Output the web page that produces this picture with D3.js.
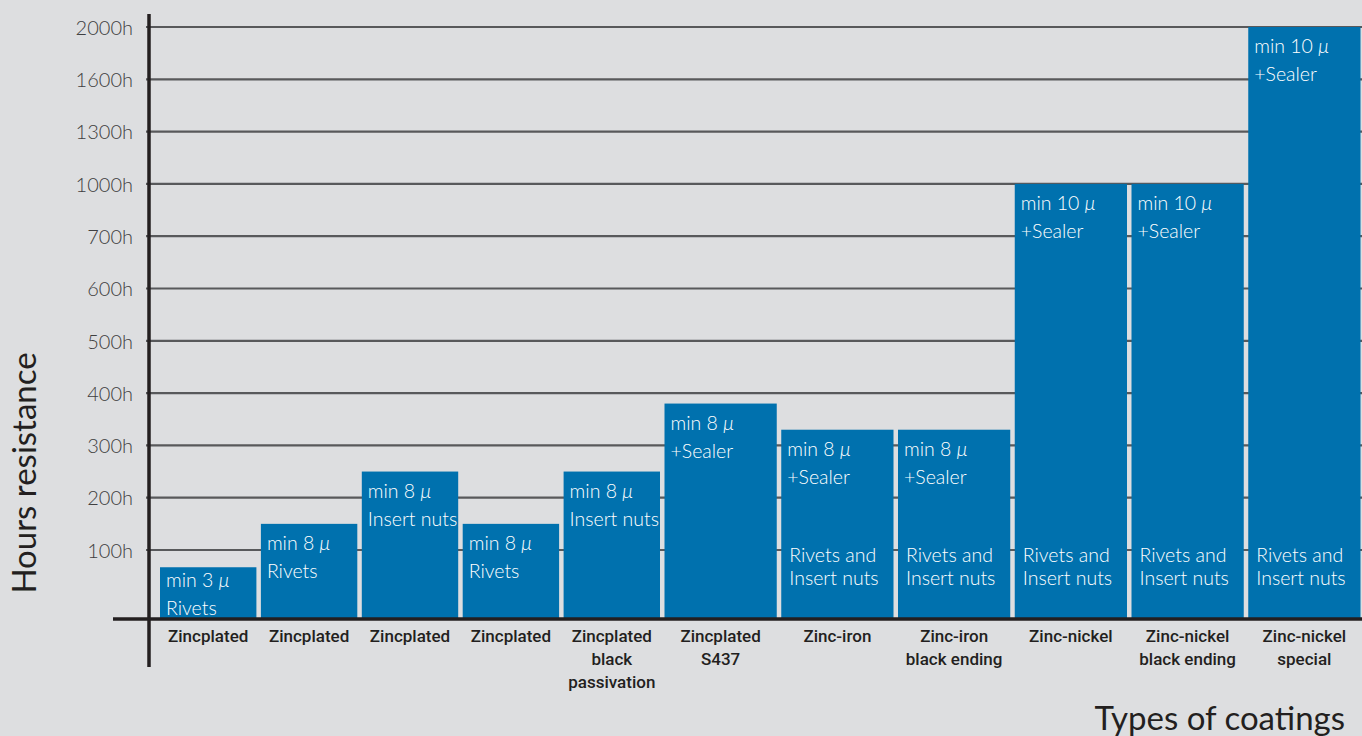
<!DOCTYPE html>
<html>
<head>
<meta charset="utf-8">
<script src="https://cdn.jsdelivr.net/npm/d3@7"></script>
<style>
  html, body { margin: 0; padding: 0; background: #dddee0; }
  svg { display: block; }
</style>
</head>
<body>
<svg id="chart" width="1362" height="736"></svg>
<script>
// ---- data ----
const categories = [
  "Zincplated", "Zincplated", "Zincplated", "Zincplated",
  "Zincplated\nblack\npassivation", "Zincplated\nS437",
  "Zinc-iron", "Zinc-iron\nblack ending",
  "Zinc-nickel", "Zinc-nickel\nblack ending", "Zinc-nickel\nspecial"
];
const hours = [75, 150, 250, 150, 250, 380, 330, 330, 1000, 1000, 2000];
const thickness = [3, 8, 8, 8, 8, 8, 8, 8, 10, 10, 10];
const topNotes = ["Rivets", "Rivets", "Insert nuts", "Rivets", "Insert nuts",
  "+Sealer", "+Sealer", "+Sealer", "+Sealer", "+Sealer", "+Sealer"];
const bottomNotes = ["", "", "", "", "", "",
  "Rivets and\nInsert nuts", "Rivets and\nInsert nuts", "Rivets and\nInsert nuts",
  "Rivets and\nInsert nuts", "Rivets and\nInsert nuts"];
const tickValues = [100, 200, 300, 400, 500, 600, 700, 1000, 1300, 1600, 2000];
const tickLabels = tickValues.map(v => v + "h");
const yTitle = "Hours resistance";
const xTitle = "Types of coatings";

// ---- layout ----
const svg = d3.select("#chart");
const baseY = 619, topY = 27, axisX = 149;
const step = 52.3;
const n = tickValues.length;
const y = d3.scaleLinear()
  .domain([0, ...tickValues])
  .range([baseY, ...tickValues.map((d, i) => topY + (n - 1 - i) * step)]);

const x = d3.scaleLinear().domain([0, 5, 11]).range([160, 664.5, 1365]);
const gap = 4.5;

const barColor = "#0071ae";
const lightFont = "Lato, sans-serif";
const catFont = "Roboto, sans-serif";

// gridlines
svg.append("g").selectAll("line").data(tickValues).join("line")
  .attr("x1", axisX - 3).attr("x2", 1362)
  .attr("y1", d => y(d)).attr("y2", d => y(d))
  .attr("stroke", "#58595b").attr("stroke-width", 2.2);

// tick labels via axis
const yAxis = d3.axisLeft(y).tickValues(tickValues)
  .tickFormat((d, i) => tickLabels[i]).tickSize(0).tickPadding(0);
const gy = svg.append("g").attr("transform", `translate(${133},0)`).call(yAxis);
gy.select(".domain").remove();
gy.selectAll("text")
  .attr("font-family", lightFont).attr("font-weight", 300)
  .attr("font-size", 20).attr("fill", "#3f3f41").attr("dy", "0.36em");

// bars
const idx = d3.range(categories.length);
const barG = svg.append("g").selectAll("g").data(idx).join("g");
barG.append("rect")
  .attr("x", i => x(i))
  .attr("width", i => x(i + 1) - x(i) - gap)
  .attr("y", i => y(hours[i]))
  .attr("height", i => baseY - y(hours[i]))
  .attr("fill", barColor);

// top text in bars
const firstLine = i => y(hours[i]) + Math.min(26, (baseY - y(hours[i])) - 32);
const tt = barG.append("text")
  .attr("font-family", lightFont).attr("font-weight", 300)
  .attr("font-size", 19.5).attr("fill", "#ffffff");
tt.append("tspan")
  .attr("x", i => x(i) + 6).attr("y", firstLine)
  .text(i => `min ${thickness[i]} `)
  .append("tspan").attr("font-style", "italic").text("\u03bc");
tt.append("tspan")
  .attr("x", i => x(i) + 6).attr("y", i => firstLine(i) + 28)
  .text(i => topNotes[i]);

// bottom text in bars
barG.each(function (i) {
  const lines = bottomNotes[i] ? bottomNotes[i].split("\n") : [];
  const t = d3.select(this).append("text")
    .attr("font-family", lightFont).attr("font-weight", 300)
    .attr("font-size", 19.5).attr("fill", "#ffffff");
  lines.forEach((l, k) => {
    t.append("tspan").attr("x", x(i) + 8)
      .attr("y", baseY - 57 + k * 23).text(l);
  });
});

// category labels
barG.each(function (i) {
  const lines = categories[i].split("\n");
  const cx = x(i) + (x(i + 1) - x(i) - gap) / 2;
  const t = d3.select(this).append("text")
    .attr("font-family", catFont).attr("font-weight", 500)
    .attr("font-size", 17).attr("fill", "#231f20")
    .attr("text-anchor", "middle");
  lines.forEach((l, k) => {
    t.append("tspan").attr("x", cx).attr("y", 642 + k * 23).text(l);
  });
});

// axes lines
svg.append("line").attr("x1", axisX).attr("x2", axisX)
  .attr("y1", 14).attr("y2", 667)
  .attr("stroke", "#231f20").attr("stroke-width", 3.5);
svg.append("line").attr("x1", 113).attr("x2", 1362)
  .attr("y1", baseY).attr("y2", baseY)
  .attr("stroke", "#231f20").attr("stroke-width", 3.5);

// titles
svg.append("text")
  .attr("transform", `translate(36,${473}) rotate(-90)`)
  .attr("text-anchor", "middle")
  .attr("font-family", lightFont).attr("font-size", 33)
  .attr("fill", "#231f20").text(yTitle);
svg.append("text")
  .attr("x", 1345).attr("y", 730)
  .attr("text-anchor", "end")
  .attr("font-family", lightFont).attr("font-size", 33)
  .attr("fill", "#231f20").text(xTitle);
</script>
</body>
</html>
